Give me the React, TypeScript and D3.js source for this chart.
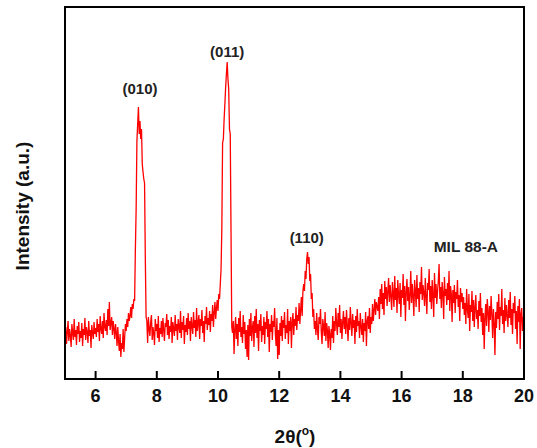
import React from "react";
import * as d3 from "d3";

// 2θ sampling step (degrees)
const step = 0.025;

// Intensity (a.u.) segments, each starting at the 2θ given in segmentStarts
const segBaseline1 = [
  40, 52, 35, 47, 58, 38, 50, 44, 32, 55, 46, 39, 60, 42, 49, 34, 53, 45, 57, 37,
  48, 41, 56, 33, 50, 44, 61, 39, 52, 47, 36, 58, 43, 49, 31, 54, 46, 40, 57, 45,
  51, 42, 60, 47, 55, 38, 63, 50, 45, 58, 41, 66, 52, 48, 59, 44, 70, 53, 77, 49,
  56, 62, 44, 58, 50, 40, 55, 47, 33, 52, 38, 28, 45, 22, 36, 30, 50, 27, 42, 55,
  48, 60, 52, 66, 58, 63, 72, 61, 75, 70, 80, 78];
const segPeak010 = [130, 170, 238, 255, 272, 245, 258, 240, 250, 215, 207, 200, 196, 120, 62];
const segBaseline2 = [
  58, 36, 62, 50, 43, 57, 64, 39, 52, 46, 34, 60, 48, 55, 41, 63, 37, 51, 45, 58,
  42, 61, 49, 38, 56, 52, 65, 44, 59, 40, 53, 47, 62, 36, 57, 50, 43, 64, 48, 55,
  39, 60, 52, 46, 68, 41, 57, 49, 63, 35, 54, 47, 61, 44, 66, 50, 58, 38, 62, 53,
  45, 67, 51, 59, 42, 71, 48, 56, 64, 40, 60, 53, 69, 46, 58, 37, 63, 55, 72, 49,
  61, 54, 68, 47, 65, 58, 74, 52, 66, 77, 60, 71, 79, 68];
const segPeak011 = [85, 80, 95, 110, 150, 236, 240, 260, 275, 292, 305, 317, 300, 290, 250, 245, 150, 52];
const segBaseline3 = [
  46, 58, 25, 50, 62, 40, 55, 33, 61, 47, 68, 42, 52, 36, 64, 45, 57, 30, 49, 22,
  54, 19, 60, 43, 66, 38, 51, 58, 32, 63, 46, 70, 41, 55, 28, 59, 48, 65, 37, 53,
  44, 62, 35, 57, 50, 68, 42, 60, 27, 55, 47, 64, 39, 58, 52, 71, 45, 33, 61, 20,
  49, 24, 56, 43, 63, 38, 59, 51, 67, 40, 54, 46, 70, 35, 58, 48, 62, 31, 57, 66,
  44, 60, 53, 72, 49, 64, 58, 76, 55, 69, 82, 63, 88];
const segPeak110 = [95, 88, 108, 100, 120, 127, 115, 122, 98, 105, 80, 86, 62, 70, 50];
const segBaseline4 = [
  58, 44, 66, 50, 39, 62, 55, 70, 47, 35, 60, 52, 43, 67, 38, 56, 49, 31, 53, 45,
  29, 50, 41, 63, 36, 58, 48, 71, 55, 44, 66, 52, 74, 46, 60, 40, 57, 68, 50, 62,
  45, 69, 54, 38, 61, 49, 72, 56, 43, 65, 51, 59, 35, 63, 47, 70, 53, 58, 41, 66,
  52, 44, 60, 37, 56, 48, 67, 33, 58, 63, 50, 71, 46, 62, 55, 75, 58, 69, 80, 64, 77, 72];
const segBump = [
  68, 82, 60, 90, 75, 95, 70, 86, 64, 98, 80, 92, 73, 88, 101, 77, 94, 83, 69, 97,
  85, 72, 103, 79, 91, 66, 99, 84, 75, 96, 62, 89, 81, 105, 74, 93, 58, 87, 100, 78,
  92, 69, 84, 108, 76, 95, 83, 63, 99, 88, 72, 104, 80, 91, 67, 97, 85, 112, 79, 94,
  86, 73, 101, 82, 65, 96, 89, 110, 77, 93, 70, 99, 84, 62, 106, 81, 95, 75, 88, 98,
  115, 80, 92, 71, 97, 86, 60, 102, 83, 90, 74, 96, 79, 108, 68, 93, 85, 57, 89, 76,
  94, 66, 87, 80, 99, 72, 84, 58, 91, 77, 86, 70];
const segBaseline5 = [
  82, 64, 76, 55, 90, 70, 61, 85, 48, 74, 67, 88, 58, 79, 52, 72, 84, 60, 69, 50,
  78, 63, 86, 57, 71, 44, 66, 30, 62, 75, 53, 80, 68, 47, 73, 59, 83, 65, 41, 70,
  56, 24, 67, 51, 77, 60, 85, 49, 72, 63, 90, 55, 69, 46, 81, 58, 74, 64, 52, 79,
  61, 87, 54, 70, 45, 76, 66, 83, 50, 68, 35, 73, 57, 80, 30, 65, 71, 48, 62, 44];

const segmentStarts = [5.0, 7.3, 7.675, 10.025, 10.475, 12.8, 13.175, 15.225, 18.025];
const segments = [segBaseline1, segPeak010, segBaseline2, segPeak011, segBaseline3, segPeak110, segBaseline4, segBump, segBaseline5];

const xTicks = [6, 8, 10, 12, 14, 16, 18, 20];
const peakLabels = [
  { text: "(010)", x: 7.45, y: 285 },
  { text: "(011)", x: 10.3, y: 322 },
  { text: "(110)", x: 12.9, y: 136 },
];
const sampleLabel = { text: "MIL 88-A", x: 18.1, y: 127 };

const W = 537, H = 448;
const left = 65, right = 524, top = 7, bottom = 379;

export default function App() {
  const data: [number, number][] = [];
  segments.forEach((seg, si) => {
    seg.forEach((v, i) => data.push([segmentStarts[si] + i * step, v]));
  });
  const x = d3.scaleLinear().domain([5, 20]).range([left, right]);
  const y = d3.scaleLinear().domain([0, 372]).range([bottom, top]);
  const line = d3.line<[number, number]>().x(d => x(d[0])).y(d => y(d[1]));
  const font = "'Liberation Sans', Arial, sans-serif";
  return (
    <svg width={W} height={H} style={{ position: "absolute", left: 0, top: 0 }} fontFamily={font}>
      <rect width={W} height={H} fill="#fff" />
      <path d={line(data) || ""} fill="none" stroke="#ff0000" strokeWidth={1.3} />
      <rect x={left} y={top} width={right - left} height={bottom - top} fill="none" stroke="#000" strokeWidth={2} />
      {xTicks.map(t => (
        <g key={t}>
          <line x1={x(t)} x2={x(t)} y1={bottom} y2={bottom - 8} stroke="#000" strokeWidth={2} />
          <text x={x(t)} y={bottom + 23} textAnchor="middle" fontSize={18} fontWeight="bold" fill="#111">{t}</text>
        </g>
      ))}
      {peakLabels.map(p => (
        <text key={p.text} x={x(p.x)} y={y(p.y)} textAnchor="middle" fontSize={15} fontWeight="bold" fill="#222">{p.text}</text>
      ))}
      <text x={x(sampleLabel.x)} y={y(sampleLabel.y)} textAnchor="middle" fontSize={15.5} fontWeight="bold" fill="#222">{sampleLabel.text}</text>
      <text x={295} y={443} textAnchor="middle" fontSize={19} fontWeight="bold" fill="#111">
        2θ(<tspan fontSize={12} dy={-8}>o</tspan><tspan dy={8}>)</tspan>
      </text>
      <text transform={`translate(29,206) rotate(-90)`} textAnchor="middle" fontSize={19} fontWeight="bold" fill="#111">Intensity (a.u.)</text>
    </svg>
  );
}
